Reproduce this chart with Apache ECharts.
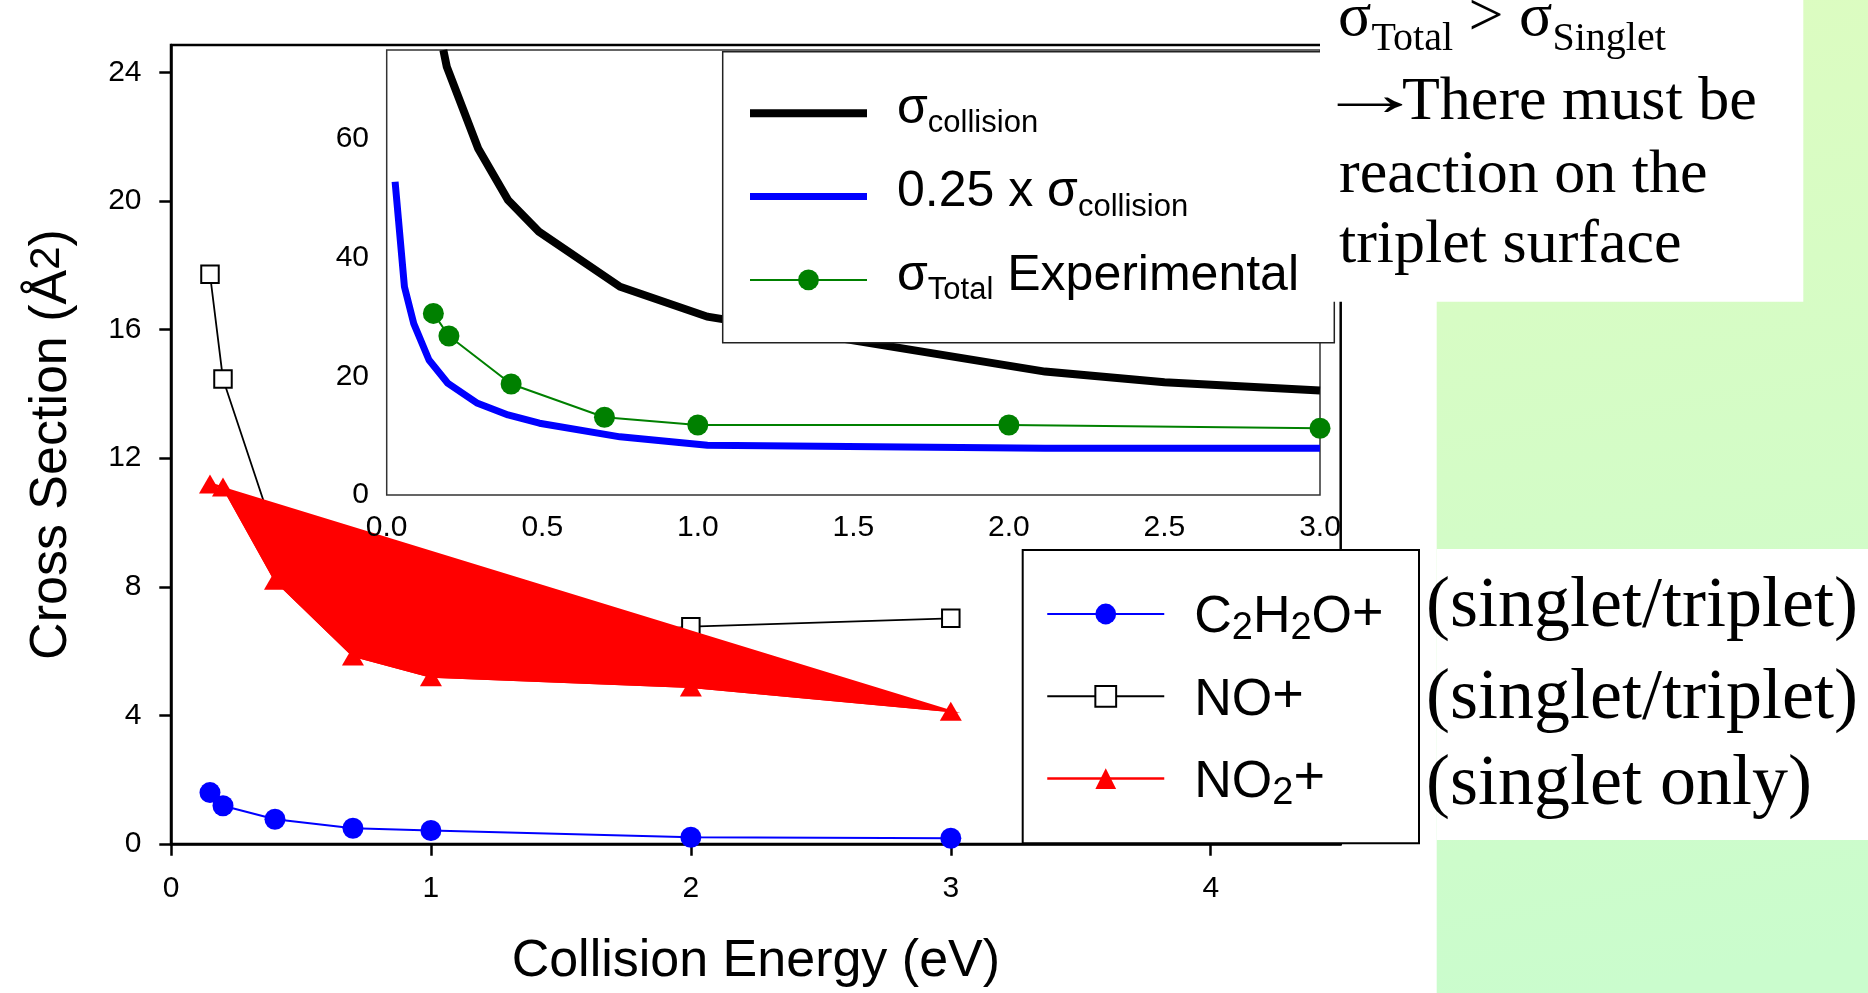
<!DOCTYPE html>
<html>
<head>
<meta charset="utf-8">
<script src="https://cdn.jsdelivr.net/npm/echarts@6/dist/echarts.min.js"></script>
<style>
  html, body { margin: 0; padding: 0; background: #fff; }
  #chart { width: 1868px; height: 993px; }
</style>
</head>
<body>
<div id="chart"></div>
<script>
// Product cross sections vs. collision energy
const energies = [0.15, 0.2, 0.4, 0.7, 1.0, 2.0, 3.0];
const c2h2oValues = [1.60, 1.19, 0.77, 0.49, 0.42, 0.21, 0.18];
const noValues = [17.72, 14.46, 9.6, 6.7, 6.1, 6.76, 7.02];
const no2Values = [11.2, 11.1, 8.2, 5.85, 5.2, 4.88, 4.13];

// Inset: collision cross section, a quarter of it, and the measured total
const collisionE = [0.182, 0.193, 0.294, 0.390, 0.489, 0.750, 1.031, 2.116, 2.5, 3.0];
const collisionSigma = [75.0, 72.2, 58.4, 49.7, 44.4, 35.1, 30.05, 20.8, 19.0, 17.6];
const quarterE = [0.027, 0.057, 0.087, 0.136, 0.197, 0.292, 0.390, 0.491, 0.750, 1.031, 2.116, 3.0];
const quarterSigma = [52.8, 35.1, 28.9, 22.75, 18.8, 15.45, 13.5, 12.1, 9.8, 8.4, 7.9, 7.9];
const totalSigma = [30.6, 26.8, 18.7, 13.1, 11.8, 11.8, 11.25];

// Tick positions
const mainXTicks = [0, 1, 2, 3, 4];
const mainYTicks = [0, 4, 8, 12, 16, 20, 24];
const insetYTicks = [0, 20, 40, 60];

const SANS = 'Liberation Sans, Arial, sans-serif';
const SERIF = 'Liberation Serif, Times New Roman, serif';

const pairs = (xs, ys) => xs.map((x, i) => [x, ys[i]]);

const mainLegendText = {
  'C2H2O+': 'C{sub|2}H{sub|2}O{sup|+}',
  'NO+': 'NO{sup|+}',
  'NO2+': 'NO{sub|2}{sup|+}'
};
const insetLegendText = {
  'σcollision': 'σ{sub|collision}',
  '0.25 x σcollision': '0.25 x σ{sub|collision}',
  'σTotal Experimental': 'σ{sub|Total} Experimental'
};

const chart = echarts.init(document.getElementById('chart'), null, { renderer: 'canvas' });

const option = {
  animation: false,
  backgroundColor: '#ffffff',
  grid: [
    { left: 171, top: 45, width: 1169.7, height: 801.7, show: true,
      borderColor: '#000', borderWidth: 2.5, backgroundColor: 'transparent' },
    { left: 386.7, top: 50, width: 933.3, height: 445, show: true,
      borderColor: '#333', borderWidth: 1.5, backgroundColor: '#fff' }
  ],
  xAxis: [
    {
      gridIndex: 0, type: 'value', min: 0, max: 4.5,
      axisLine: { show: true, onZero: false, lineStyle: { color: '#000', width: 2.5 } },
      axisTick: { show: true, inside: false, length: 11.7, customValues: mainXTicks,
                  lineStyle: { color: '#000', width: 2.5 } },
      axisLabel: { customValues: mainXTicks, margin: 30, fontSize: 30, fontFamily: SANS, color: '#000' },
      splitLine: { show: false },
      name: 'Collision Energy (eV)', nameLocation: 'middle', nameGap: 92,
      nameTextStyle: { fontSize: 52, lineHeight: 52, fontFamily: SANS, color: '#000' }
    },
    {
      gridIndex: 1, type: 'value', min: 0, max: 3, interval: 0.5, z: 10,
      axisLine: { show: false }, axisTick: { show: false },
      axisLabel: { margin: 18, fontSize: 30, fontFamily: SANS, color: '#000',
                   formatter: v => v.toFixed(1) },
      splitLine: { show: false }
    }
  ],
  yAxis: [
    {
      gridIndex: 0, type: 'value', min: 0, max: 24.85, interval: 4,
      axisLine: { show: true, onZero: false, lineStyle: { color: '#000', width: 2.5 } },
      axisTick: { show: true, inside: false, length: 11.7, customValues: mainYTicks,
                  lineStyle: { color: '#000', width: 2.5 } },
      axisLabel: { customValues: mainYTicks, margin: 29.5, fontSize: 30, fontFamily: SANS, color: '#000' },
      splitLine: { show: false },
      name: '{t|Cross Section (Å}{s|2}{t|)}', nameLocation: 'middle', nameGap: 93,
      nameTextStyle: {
        fontSize: 52, lineHeight: 52, fontFamily: SANS, color: '#000',
        rich: {
          t: { fontSize: 52, lineHeight: 52, fontFamily: SANS, color: '#000' },
          s: { fontSize: 42, lineHeight: 38, verticalAlign: 'top', fontFamily: SANS, color: '#000' }
        }
      }
    },
    {
      gridIndex: 1, type: 'value', min: 0, max: 75, interval: 20,
      axisLine: { show: false }, axisTick: { show: false },
      axisLabel: { customValues: insetYTicks, margin: 17.7, fontSize: 30, fontFamily: SANS, color: '#000' },
      splitLine: { show: false }
    }
  ],
  legend: [
    {
      data: [
        { name: 'C2H2O+', itemStyle: { color: '#0000ff' }, lineStyle: { color: '#0000ff', width: 2 } },
        { name: 'NO+', itemStyle: { color: '#fff', borderColor: '#000', borderWidth: 2 },
          lineStyle: { color: '#000', width: 2 } },
        { name: 'NO2+', itemStyle: { color: '#ff0000' }, lineStyle: { color: '#ff0000', width: 2.5 } }
      ],
      orient: 'vertical', left: 1046, top: 580, padding: 0,
      itemWidth: 117, itemHeight: 26, itemGap: 14.3, selectedMode: false, z: 20,
      formatter: name => mainLegendText[name],
      textStyle: {
        fontFamily: SANS, fontSize: 52, lineHeight: 60, color: '#000', padding: [8, 0, 0, 25],
        rich: {
          sub: { fontFamily: SANS, fontSize: 38, lineHeight: 35, verticalAlign: 'bottom', color: '#000' },
          sup: { fontFamily: SANS, fontSize: 54, lineHeight: 31, verticalAlign: 'top', color: '#000' }
        }
      }
    },
    {
      data: [
        { name: 'σcollision', itemStyle: { opacity: 0, color: 'rgba(0,0,0,0)', borderWidth: 0 },
          lineStyle: { color: '#000', width: 8 } },
        { name: '0.25 x σcollision', itemStyle: { opacity: 0, color: 'rgba(0,0,0,0)', borderWidth: 0 },
          lineStyle: { color: '#0000ff', width: 7 } },
        { name: 'σTotal Experimental', itemStyle: { color: '#008000' },
          lineStyle: { color: '#008000', width: 2 } }
      ],
      orient: 'vertical', left: 746, top: 79.3, padding: 0,
      itemWidth: 117, itemHeight: 26, itemGap: 15.3, selectedMode: false, z: 20,
      formatter: name => insetLegendText[name],
      textStyle: {
        fontFamily: SANS, fontSize: 50, lineHeight: 60, color: '#000', padding: [0, 0, 8, 25],
        rich: {
          sub: { fontFamily: SANS, fontSize: 31, lineHeight: 19, verticalAlign: 'bottom', color: '#000' }
        }
      }
    }
  ],
  series: [
    {
      name: 'C2H2O+', type: 'line', xAxisIndex: 0, yAxisIndex: 0, z: 2,
      data: pairs(energies, c2h2oValues),
      symbol: 'circle', symbolSize: 21,
      itemStyle: { color: '#0000ff' }, lineStyle: { color: '#0000ff', width: 2 }
    },
    {
      name: 'NO+', type: 'line', xAxisIndex: 0, yAxisIndex: 0, z: 2,
      data: pairs(energies, noValues),
      symbol: 'rect', symbolSize: 17.5,
      itemStyle: { color: '#fff', borderColor: '#000', borderWidth: 2 },
      lineStyle: { color: '#000', width: 1.8 }
    },
    {
      // closed outline through the NO2+ points, filled; sits above the NO+ trace
      name: 'NO2+ region', type: 'custom', xAxisIndex: 0, yAxisIndex: 0, z: 3,
      data: pairs(energies, no2Values), silent: true,
      renderItem: (params, api) => {
        if (params.dataIndex !== 0) return null;
        const pts = energies.map((e, i) => api.coord([e, no2Values[i]]));
        return { type: 'polygon', shape: { points: pts },
                 style: { fill: '#ff0000', stroke: '#ff0000', lineWidth: 2 } };
      }
    },
    {
      name: 'NO2+', type: 'line', xAxisIndex: 0, yAxisIndex: 0, z: 4,
      data: pairs(energies, no2Values),
      symbol: 'triangle', symbolSize: [22, 19],
      itemStyle: { color: '#ff0000' }, lineStyle: { color: '#ff0000', width: 2 }
    },
    {
      name: 'σcollision', type: 'line', xAxisIndex: 1, yAxisIndex: 1,
      data: pairs(collisionE, collisionSigma), symbol: 'none', clip: true,
      lineStyle: { color: '#000', width: 8, join: 'miter' }
    },
    {
      name: '0.25 x σcollision', type: 'line', xAxisIndex: 1, yAxisIndex: 1,
      data: pairs(quarterE, quarterSigma), symbol: 'none', clip: true,
      lineStyle: { color: '#0000ff', width: 7 }
    },
    {
      name: 'σTotal Experimental', type: 'line', xAxisIndex: 1, yAxisIndex: 1,
      data: pairs(energies, totalSigma), symbol: 'circle', symbolSize: 21,
      itemStyle: { color: '#008000' }, lineStyle: { color: '#008000', width: 2 }
    }
  ],
  graphic: [
    { type: 'rect', z: 0, silent: true,
      shape: { x: 1436.7, y: 0, width: 431.3, height: 993 },
      style: { fill: { type: 'linear', x: 0, y: 0, x2: 0.4, y2: 1,
        colorStops: [{ offset: 0, color: '#ddfcc0' }, { offset: 1, color: '#cafccd' }] } } },
    { type: 'rect', z: 1, silent: true,
      shape: { x: 1436.7, y: 549, width: 431.3, height: 291 }, style: { fill: '#fff' } },
    { type: 'rect', z: 15, silent: true,
      shape: { x: 722.7, y: 51.7, width: 611.6, height: 291 },
      style: { fill: '#fff', stroke: '#222', lineWidth: 1.5 } },
    { type: 'rect', z: 15, silent: true,
      shape: { x: 1022.7, y: 550, width: 396.3, height: 293.3 },
      style: { fill: '#fff', stroke: '#000', lineWidth: 2 } },
    { type: 'rect', z: 30, silent: true,
      shape: { x: 1320, y: 0, width: 483.3, height: 301.7 }, style: { fill: '#fff' } },
    { type: 'text', z: 31, silent: true,
      style: { x: 1338, y: -20.9, verticalAlign: 'top', align: 'left', fill: '#000',
        text: '{b|σ}{s|Total}{b| > σ}{s|Singlet}',
        rich: {
          b: { fontFamily: SERIF, fontSize: 62, lineHeight: 80, verticalAlign: 'middle', fill: '#000' },
          s: { fontFamily: SERIF, fontSize: 40, lineHeight: 28.6, verticalAlign: 'bottom', fill: '#000' }
        } } },
    { type: 'text', z: 31, silent: true, x: 1315, y: 99, scaleX: 1.76,
      style: { x: 0, y: 0, verticalAlign: 'middle', text: '→',
               font: '62px ' + SERIF, fill: '#000' } },
    { type: 'text', z: 31, silent: true,
      style: { x: 1402, y: 102.4, verticalAlign: 'middle', text: 'There must be',
               font: '62px ' + SERIF, fill: '#000' } },
    { type: 'text', z: 31, silent: true,
      style: { x: 1339, y: 175.8, verticalAlign: 'middle', text: 'reaction on the',
               font: '62px ' + SERIF, fill: '#000' } },
    { type: 'text', z: 31, silent: true,
      style: { x: 1339, y: 245.8, verticalAlign: 'middle', text: 'triplet surface',
               font: '62px ' + SERIF, fill: '#000' } },
    { type: 'text', z: 31, silent: true,
      style: { x: 1426, y: 606.7, verticalAlign: 'middle', text: '(singlet/triplet)',
               font: '72px ' + SERIF, fill: '#000' } },
    { type: 'text', z: 31, silent: true,
      style: { x: 1426, y: 698.7, verticalAlign: 'middle', text: '(singlet/triplet)',
               font: '72px ' + SERIF, fill: '#000' } },
    { type: 'text', z: 31, silent: true,
      style: { x: 1426, y: 784.7, verticalAlign: 'middle', text: '(singlet only)',
               font: '72px ' + SERIF, fill: '#000' } }
  ]
};

chart.setOption(option);
</script>
</body>
</html>
